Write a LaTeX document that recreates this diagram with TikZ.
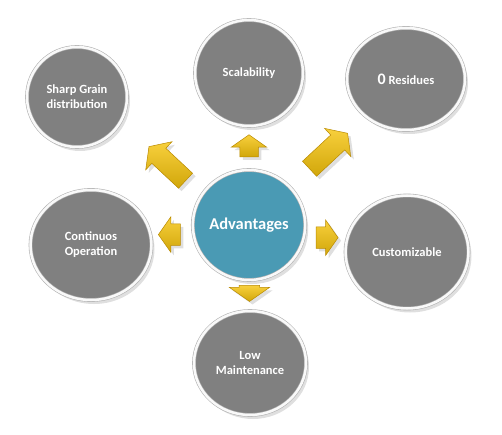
\documentclass[tikz,border=0pt]{standalone}
\usepackage{fontspec}
\setmainfont{Carlito}
\usetikzlibrary{shapes.geometric,shapes.arrows,shadows,calc}
\definecolor{bubblegray}{HTML}{808080}
\definecolor{hubteal}{HTML}{4A9AB4}
\definecolor{arrowgold}{HTML}{F6C40C}
\definecolor{arrowedge}{HTML}{B98A00}
\tikzset{
  bubble/.style={ellipse, fill=bubblegray, draw=gray!60, double=gray!5, double distance=2.5pt,
    line width=0.6pt, text=white, align=center, inner sep=0pt,
    font=\bfseries\fontsize{12.5}{15}\selectfont,
    drop shadow={opacity=0.25, shadow xshift=3pt, shadow yshift=-4pt}},
  hub/.style={bubble, fill=hubteal, font=\bfseries\fontsize{16.5}{19}\selectfont},
  blockarrow/.style={single arrow, draw=arrowedge, line width=0.5pt, inner xsep=0pt,
    top color=arrowgold!80!white, bottom color=arrowgold!85!black,
    single arrow tip angle=110,
    drop shadow={opacity=0.25, shadow xshift=3pt, shadow yshift=-3pt}}
}
\begin{document}
\begin{tikzpicture}[x=1pt, y=-1pt]
  \useasboundingbox (0,0) rectangle (502,435);
  % the bubbles
  \node[hub, minimum width=110pt, minimum height=110pt] (adv) at (249,225) {Advantages};
  \node[bubble, minimum width=108pt, minimum height=106pt] (scal) at (249,73) {Scalability};
  \node[bubble, minimum width=118pt, minimum height=102pt] (resid) at (406,79)
    {{\fontsize{16}{16}\selectfont 0} Residues};
  \node[bubble, minimum width=100pt, minimum height=100pt] (sharp) at (77,97) {Sharp Grain\\distribution};
  \node[bubble, minimum width=121pt, minimum height=110pt] (cont) at (91,245) {Continuos\\Operation};
  \node[bubble, minimum width=123pt, minimum height=113pt] (cust) at (407,252) {Customizable};
  \node[bubble, minimum width=112pt, minimum height=104pt] (low) at (250,363) {Low\\Maintenance};
  % the arrows
  \node[blockarrow, minimum height=22pt, inner ysep=9pt, single arrow head extend=8.5pt, rotate=90]
    (toscal) at ($(adv)!0.5!(scal)$) {};
  \node[blockarrow, minimum height=50pt, inner ysep=10pt, single arrow head extend=9pt, rotate=137]
    (tosharp) at ($(adv)!0.46!(sharp)$) {};
  \node[blockarrow, minimum height=52pt, inner ysep=10pt, single arrow head extend=9pt, rotate=43]
    (toresid) at ($(adv)!0.49!(resid)$) {};
  \node[blockarrow, minimum height=22pt, inner ysep=10.5pt, single arrow head extend=7pt, rotate=180]
    (tocont) at ($(adv)!0.48!(cont)$) {};
  \node[blockarrow, minimum height=22pt, inner ysep=10.5pt, single arrow head extend=7pt]
    (tocust) at ($(adv)!0.47!(cust)$) {};
  \node[blockarrow, minimum height=16pt, inner ysep=10pt, single arrow head extend=10pt, rotate=-90]
    (tolow) at ($(adv)!0.47!(low)$) {};
\end{tikzpicture}
\end{document}
